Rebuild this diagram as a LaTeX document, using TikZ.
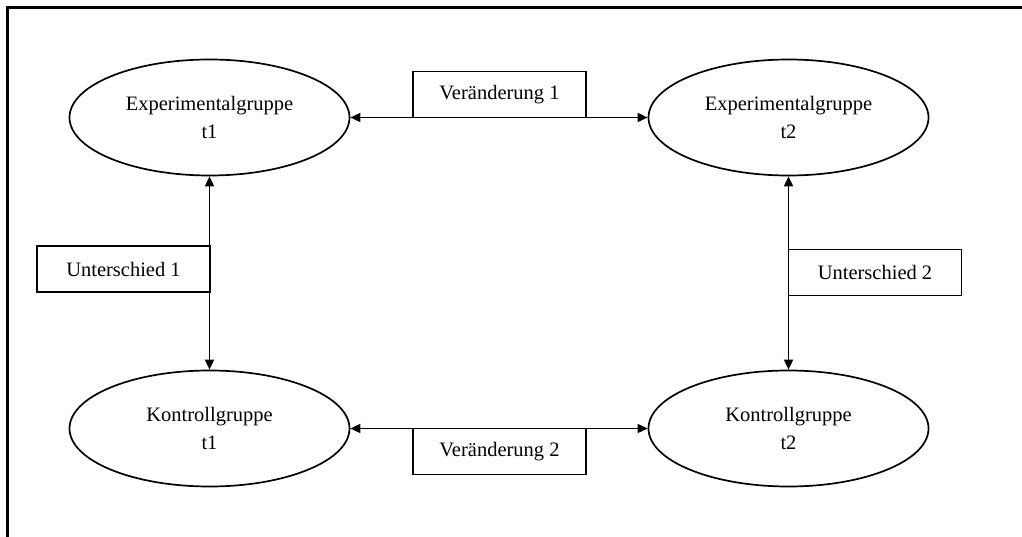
\documentclass[tikz,border=0pt]{standalone}
\usepackage{fontspec}
\setmainfont{Liberation Serif}
\usetikzlibrary{shapes.geometric,arrows.meta}
\begin{document}
\begin{tikzpicture}[x=1pt,y=-1pt,
  grp/.style={draw,line width=1.7pt,ellipse,minimum width=280pt,minimum height=116pt,inner sep=0pt,align=center,font=\fontsize{20.5}{28}\selectfont},
  lab/.style={draw,line width=1.7pt,rectangle,minimum width=173pt,minimum height=46pt,inner sep=0pt,font=\fontsize{20.5}{24}\selectfont},
  conn/.style={line width=1.7pt,{Triangle[length=10pt,width=9pt]}-{Triangle[length=10pt,width=9pt]}}]
\useasboundingbox (0,0) rectangle (1022,537);
\draw[line width=2.2pt] (7.5,537) -- (7.5,7.5) -- (1022,7.5);
\node[grp] (e1) at (209.5,117.5) {Experimentalgruppe\\t1};
\node[grp] (e2) at (788.5,117.5) {Experimentalgruppe\\t2};
\node[grp] (k1) at (209.5,428.5) {Kontrollgruppe\\t1};
\node[grp] (k2) at (788.5,428.5) {Kontrollgruppe\\t2};
\draw[conn] (e1.east) -- (e2.west);
\draw[conn] (k1.east) -- (k2.west);
\draw[conn] (e1.south) -- (k1.north);
\draw[conn] (e2.south) -- (k2.north);
\node[lab] (v1) at (499.5,94.5) {Veränderung 1};
\node[lab] (v2) at (499.5,451.5) {Veränderung 2};
\node[lab] (u1) at (123.5,269) {Unterschied 1};
\node[lab] (u2) at (875,272.5) {Unterschied 2};
\end{tikzpicture}
\end{document}
